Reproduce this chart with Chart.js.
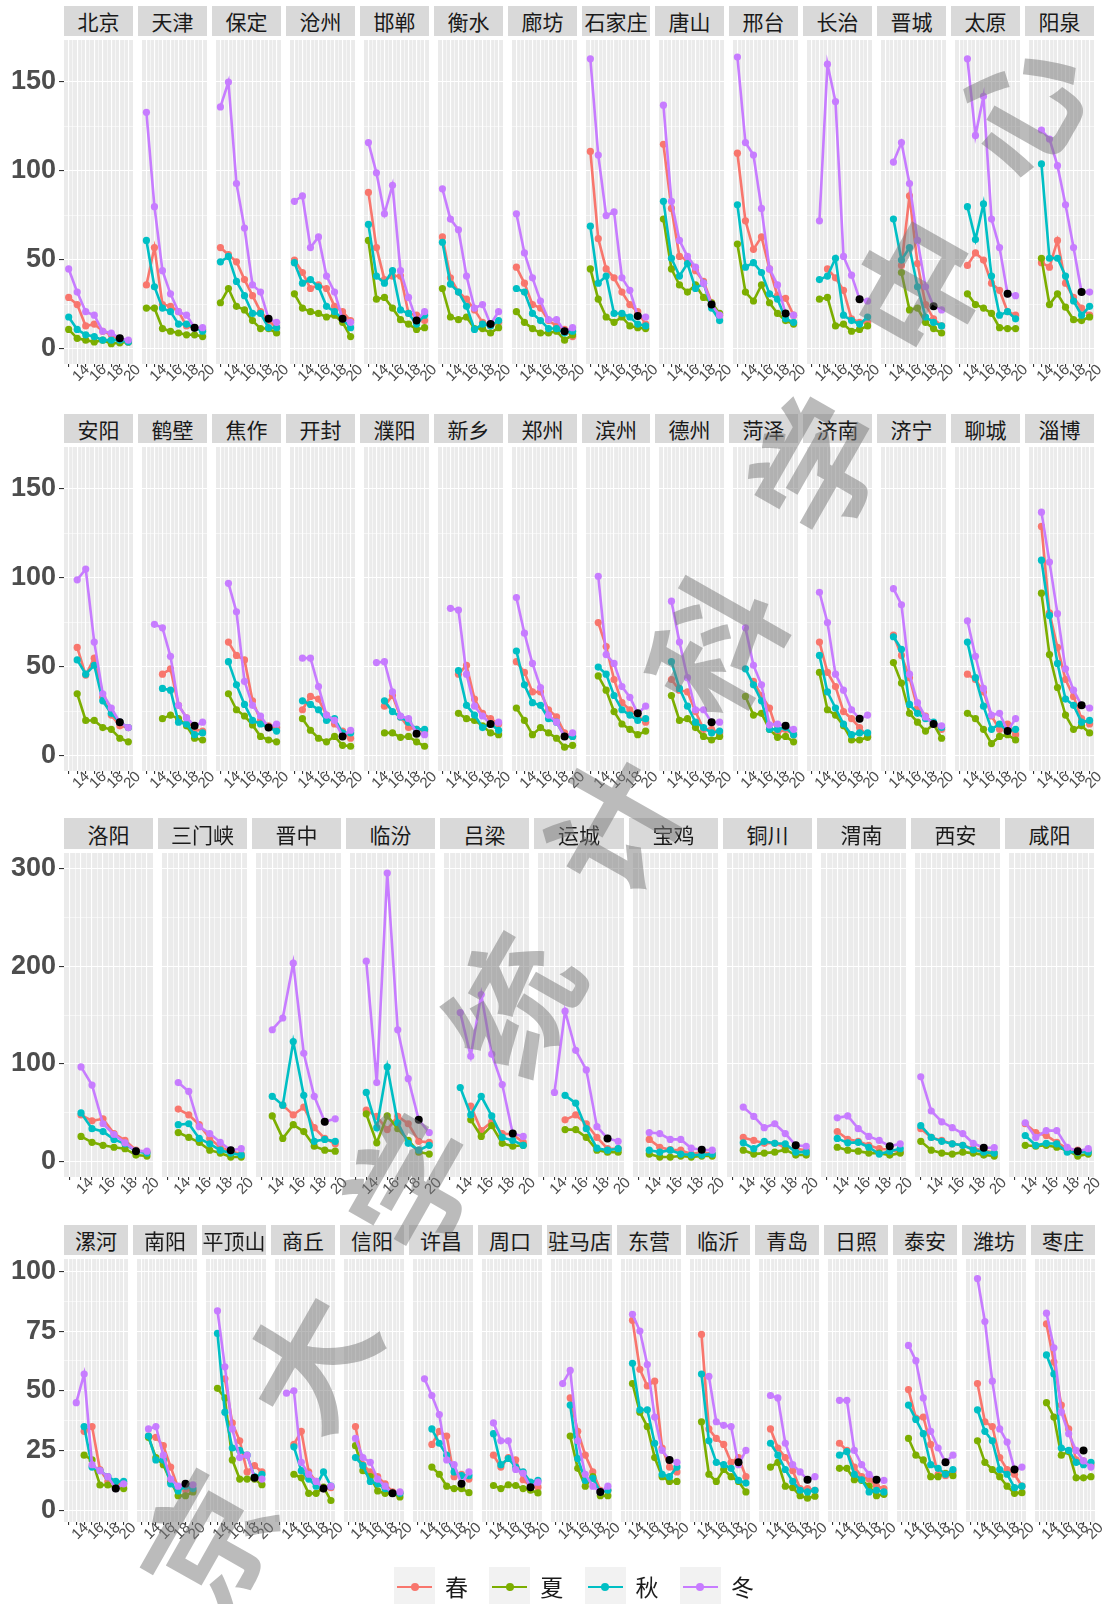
<!DOCTYPE html>
<html><head><meta charset="utf-8">
<script src="https://cdn.jsdelivr.net/npm/chart.js@4.4.1/dist/chart.umd.min.js"></script>
<style>
html,body{margin:0;padding:0;background:#fff}
body{position:relative;width:1104px;height:1604px;overflow:hidden}
.strip{position:absolute;background:#D9D9D9;color:#1A1A1A;font-family:"Noto Sans CJK SC",sans-serif;font-size:21px;display:flex;align-items:center;justify-content:center;white-space:nowrap;overflow:hidden}
canvas{position:absolute}
.lkey{position:absolute;background:#F2F2F2}
.lline{position:absolute;height:2.4px}
.ldot{position:absolute;width:8px;height:8px;border-radius:50%}
.ltext{position:absolute;font-family:"Noto Sans CJK SC",sans-serif;font-size:23px;color:#1A1A1A;line-height:23px}
#wm{position:absolute;left:-472px;top:830px;width:2058px;height:160px;transform:rotate(-60.45deg);display:flex;pointer-events:none;z-index:20;font-family:"Noto Sans CJK SC",sans-serif;font-weight:700;font-size:130px;line-height:160px;color:rgba(120,120,120,0.5)}
#wm span{display:block;width:205.8px;text-align:center}
</style></head><body>
<div id="wm"><span>北</span><span>京</span><span>大</span><span>学</span><span>统</span><span>计</span><span>科</span><span>学</span><span>中</span><span>心</span></div>
<script>
const N = null;
const years = [2013,2014,2015,2016,2017,2018,2019,2020];
const xLabelYears = [2014,2016,2018,2020];
const blackYear = 2019;
const seasonNames = ['春','夏','秋','冬'];
const seasonColors = ['#F8766D','#7CAE00','#00BFC4','#C77CFF'];

// ---------- Row 1 ----------
const row1Cities = ['北京','天津','保定','沧州','邯郸','衡水','廊坊','石家庄','唐山','邢台','长治','晋城','太原','阳泉'];
const row1YTicks = [0,50,100,150];
const row1Spring = [
 [29,25,13,14,10,8,5,4],[36,57,25,24,21,13,12,11],[57,53,49,39,30,21,16,12],[50,43,34,36,34,24,21,16],
 [88,57,39,41,41,20,19,16],[63,40,32,28,22,15,13,15],[46,37,25,23,16,13,11,7],[111,62,45,40,32,25,21,14],
 [115,79,52,50,44,38,26,19],[110,72,56,63,45,30,28.5,19],[N,N,45,40,33,17,15,15],[N,N,47,86,48,25,17,13],
 [N,47,54,50,37,33,21,19],[N,48.5,46,61,37,29,23,19]];
const row1Summer = [
 [11,6,5,4,5,3,3.5,4],[23,23,11.5,10,9,8,8,7],[26,34,24,22,16,11.5,11.5,9],[31,23,21,20,18,19,15,7],
 [61,28,29,23,16.5,14,11,12],[34,18,16.5,18,11.5,11.5,9,12],[21,15,11.5,9,9,10,5,8],[45,28,18,15,18,13,12,11.5],
 [73,45,36,32,36,29,26,20],[59,32,27,36,26,20,16,14],[N,28,29,13,14,10,11,13],[N,N,43,22,23,15,11.5,9],
 [N,31,25,23,20,12,11.5,11.5],[N,51,25,31,23.5,16.5,16,18]];
const row1Autumn = [
 [18,11,8,7,5,5,5,4],[61,35,23,21,14,14,12,10],[49,52,38,30,20,20,12,12],[48.5,37,39,35,24,21,17,12],
 [70,41,37,44,22,20,14,19],[60,36.5,32,24,11,14,13,16],[34,32,20,16,11.5,11.5,9,10],[69,37,41,20,20,18,14,13],
 [83,51,41,48,34,37,23,16],[81,46,48.5,43,31,28,17,15],[N,39,41,51,19,16,14,18],[N,73,50,57,35,18,15,13],
 [N,80,61.5,81.5,41,19,21,17],[N,104,51,51,41,27,19,24]];
const row1Winter = [
 [45,32,21,19,10,9,6,5],[133,80,44,31,21,19,12,12],[136,150,93,68,36,32,17,15],[83,86,57,63,41,32,17,15],
 [116,99,76,92,44,29,16,21],[90,73,67,41,23,25,14,21],[76,54,40,27,16.5,16.5,10,12],[163,109,75,77,40,33,18.5,18],
 [137,83,61,52,46,37,25,19],[164,116,109,79,45,36,20,19],[N,72,160,139,52,41.5,28,27],[N,105,116,93,61,35,24,22],
 [N,163,120,142,73,57,31,30],[N,123,118,103,81,57,32,32]];
const row1Black = [6,12,17,17,16,14,10,18.5,25,20,28,24,31,32];

// ---------- Row 2 ----------
const row2Cities = ['安阳','鹤壁','焦作','开封','濮阳','新乡','郑州','滨州','德州','菏泽','济南','济宁','聊城','淄博'];
const row2YTicks = [0,50,100,150];
const row2Spring = [
 [N,61,45.5,55,33,23,17,16],[N,N,46,49,28.5,21.5,15,14],[N,64,56.5,54,31,20,17,16],[N,26,33.5,32,23,18,14,10],
 [N,N,28,34,22,16,15,14],[N,N,46,51,32,24,21,18],[53,47,36,36,26,22,13,11],[N,75,61.5,43,30,26,22.5,19],
 [N,43,37,36,25,15,15,13],[N,N,42,34,27,13,15,12],[N,64,47,39,25,21,16,11],[N,68,56.5,44,27,22.5,18,15],
 [N,46,43,36,22.5,15,18,12],[N,129,80.5,61,43,33.5,21,18]];
const row2Summer = [
 [N,35,20,20,16,15,10,8],[N,N,21,23,21,17,10,9],[N,35,26,22.5,17.5,11,9,8],[N,21,14.5,10,8,11,6,5.5],
 [N,N,13,13,10.5,11,8,5.5],[N,N,24,21,20,17,13,12],[27,20,12,16,13,10,5,6],[N,45,37,25,18,15,12,14],
 [N,34,20,21,16,11,9,11],[N,33.5,23,24,15,10.5,11,8],[N,47,26,23,17,9,9,10.5],[N,52.5,41,24,19,14,18,10],
 [N,24,21,15,7,11,12,9],[N,91.5,57,38.5,23,15,17,13]];
const row2Autumn = [
 [N,54,46,51,31,24,19,16],[N,N,38,37,19,18,12,13],[N,53,40,29,20,18,16,14],[N,31,29,26,20,21,13,13],
 [N,N,31,25,22,19,15,15],[N,N,48,28.5,23,16,18,14.5],[59,40,30,28.5,21,19,11,11],[N,50,46,34,26,23,20,21],
 [N,53,38,28,19,16,13,14],[N,49,40,31,15,15,16,12],[N,56.5,36,27,18,12,13,13],[N,67,60,29,24,21,19,16],
 [N,64,44,28,15,18,14,15],[N,110,79,52,32,28.5,19,20]];
const row2Winter = [
 [N,99,105,64,35,27,19,16],[N,74,72,56,28.5,21.5,17,19],[N,97,81,42,28.5,22.5,16,18],[N,55,55,39,23,20,11,14.5],
 [N,52.5,53,36,22.5,21,13,12],[N,83,82,46,28,22.5,18,19],[89,69,52,38.5,23,19,11,13],[N,101,57,52,39,33,24,28],
 [N,87,64,44,26,26,19,19],[N,72,51,40,17.5,18,17,15],[N,92,75,46,37,26,21,23],[N,94,85,46,30,22,18,17],
 [N,76,56,38,23,24,14,21],[N,137,109,80,49,37,28.5,27]];
const row2Black = [19,17,16,11,12.5,18,11,24,19,17,21,18,14,28.5];

// ---------- Row 3 ----------
const row3Cities = ['洛阳','三门峡','晋中','临汾','吕梁','运城','宝鸡','铜川','渭南','西安','咸阳'];
const row3YTicks = [0,100,200,300];
const row3Spring = [
 [N,48,42,44,29,22,12,10],[N,54,48,38,24,15,11,8],[N,N,58,48,56,35,24,18.5],[N,53,46.5,33,46.5,39,21,20],
 [N,N,57,32,41,29,28,20],[N,N,43,48,39,25,13.5,13.5],[N,23,15,12.5,12,8,10,8],[N,25,22,19,19,15,13.5,12],
 [N,31,23,21,17,13.5,12.5,10],[34,25,22,18.5,17,13.5,12,9],[N,39,30,27,20,13.5,12,11]];
const row3Summer = [
 [N,26,20,17,15,13.5,7,6],[N,30,25,20,12,9,5,5],[N,47,24,38,31,16,12,11],[N,49,19.5,47,34,22,10,8],
 [N,N,43,26,37,19,16,17],[N,N,33,33,25,12,10,10],[N,8,5,5,6,5,6,6],[N,12,8,9,10,12.5,7,7],
 [N,15,12,11,9,9,7,9],[21,12,9,8,10,9,7,6],[N,17,16,17,15,12,6,8]];
const row3Autumn = [
 [N,50,34,31,23,18.5,11,9],[N,38,39,24,18.5,12,9,7],[N,67,58,123,68,21,23,21],[N,71,35,97,40,19,12,17],
 [N,76,48,67,47,25,22,17],[N,N,68,60,34,14,12,13.5],[N,12,10,12,8,7,7,8],[N,19.5,13.5,21,19,18.5,10,10],
 [N,24,19.5,20,15,8,11,13.5],[37,25,21,18.5,17,12.5,10,9],[N,27,17,19,18.5,10,10,10]];
const row3Winter = [
 [N,97,78.5,39,28,19.5,11,11],[N,81,72,36,29,20,12,13.5],[N,135,147,203,111,67,41,44],[N,205,81,295,135,85,43,30],
 [N,152.5,108,171,110,79,29,26],[N,71,154,114,94,36,24,21],[N,30,29,23,23,14,12.5,12],[N,56,46.5,35,39,29,17,16],
 [N,45,47,34,26,22,16,18.5],[87,52,41,35,29,19,14.5,14.5],[N,40,25,32,32,15,11,13.5]];
const row3Black = [11,12,41,43,29,24,12.5,17,16,14.5,11];

// ---------- Row 4 ----------
const row4Cities = ['漯河','南阳','平顶山','商丘','信阳','许昌','周口','驻马店','东营','临沂','青岛','日照','泰安','潍坊','枣庄'];
const row4YTicks = [0,25,50,75,100];
const row4Spring = [
 [N,N,33,35,17,12,11,11],[N,31,30.5,27,18,9.4,8.5,8.3],[N,N,55,36.5,29,16,18.6,16],[N,N,27.5,33,16,12,9,9.4],
 [N,35,19,16,14,11,7.6,7.2],[N,N,27.5,33,31,14,15,13],[N,23,18,22,21,12.7,10,9.6],[N,N,47,33,23,16,8.3,8.3],
 [N,79.5,59,52,54,26,18,16],[N,73.6,34,30,27.5,20,22,14],[N,34,26,22,16.5,9,9,8.3],[N,28,25,18,14,13,10,9],
 [N,50.5,38.5,39,27.5,15,14.4,16],[N,53,37,35,22,17,15,10],[N,78,62,44,34,21,20.6,19]];
const row4Summer = [
 [N,N,23,21,10.5,10.5,9.5,9],[N,30.5,22,19,12,6,6,7.6],[N,51,47,21,13,13,13,10.6],[N,N,15,13.5,7,7,9.6,4],
 [N,27,16.5,14,8,7,7,5.5],[N,N,18,15,10,9,9,7.3],[N,10.3,9,10.6,10.3,9,8.3,7.2],[N,N,31,17.5,10,14,6,6],
 [N,53,41,35,22,14,12,12],[N,37,15,12,17,14,12,7.6],[N,18,20,10,9.4,6,5,5.8],[N,17.5,17.5,12.7,12.4,10,6,6.6],
 [N,30,23,21,14,14,15.4,14.4],[N,29,20,17,14,10,7,7.3],[N,45,39,23,24.5,13.5,13.5,14]];
const row4Autumn = [
 [N,N,35,18,16.5,14,12,12],[N,31,21,21,11,8,10,9],[N,74,41,26,25,23,14,15],[N,N,26.5,16.5,13,10,16,10],
 [N,22,18.6,12,11,9,7,7],[N,N,34,28,23,16,14.4,14.4],[N,32,19,21.6,18,16,11.7,12.4],[N,N,44,21.6,12.4,13.3,7.6,8.3],
 [N,61.5,42,42,28,15,14,18],[N,57,29,20,19,17.5,12.4,11.3],[N,28,23,17,12,8.3,7.6,8.3],[N,23,24.5,15,12.7,7.6,8.3,7.6],
 [N,44,38,32,19,17.5,15,17],[N,42,33,29,17,15,9.4,10],[N,65,57,26,25,20,19,20]];
const row4Winter = [
 [N,45,57,19,16.5,14,9,11],[N,34,35,23,13,10,11,10.6],[N,83.5,60,34,22,23,13.5,13],[N,49,50,20,15,12,9,10],
 [N,30,22,20,13,10,7,7.6],[N,55,48,40,21,19,11,16],[N,36.5,29,29,17,15.4,9.6,11.7],[N,53,58.5,29,15,10,7.6,10],
 [N,82,75,61,39,25,21,20],[N,N,56,37,35.5,35,19,25],[N,48,47,28,19,16,12.7,14],[N,46,46,25,19,15,12.7,12.4],
 [N,69,62.6,47,33,26,20,23],[N,97,79,54,34,28.5,17,18],[N,82.5,68,41,32,25,20.6,18]];
const row4Black = [9,11,13.5,9,7,11,9.6,7.6,21,20,12.7,12.7,20,17,25];

// ---------- layout (positions only) ----------
const ROWS = [
 {cities:row1Cities, sp:row1Spring, su:row1Summer, au:row1Autumn, wi:row1Winter, bk:row1Black, yTicks:row1YTicks, x0:64, x1:1094, stripTop:6, plotTop:36, plotBottom:364, yMin:-8.4, yMax:173.6},
 {cities:row2Cities, sp:row2Spring, su:row2Summer, au:row2Autumn, wi:row2Winter, bk:row2Black, yTicks:row2YTicks, x0:64, x1:1094, stripTop:414, plotTop:443, plotBottom:771, yMin:-8.4, yMax:173.6},
 {cities:row3Cities, sp:row3Spring, su:row3Summer, au:row3Autumn, wi:row3Winter, bk:row3Black, yTicks:row3YTicks, x0:64, x1:1094, stripTop:818, plotTop:849, plotBottom:1177, yMin:-15.4, yMax:315.5},
 {cities:row4Cities, sp:row4Spring, su:row4Summer, au:row4Autumn, wi:row4Winter, bk:row4Black, yTicks:row4YTicks, x0:64, x1:1095, stripTop:1225, plotTop:1255, plotBottom:1522, yMin:-5, yMax:105.2}
];
const GAP = 5, EXTRA_R = 8, X_AXIS_H = 36;
const X_MIN = 2012.45, X_MAX = 2020.55;
const FONT = "'Liberation Sans', Arial, sans-serif";
const xGrid = [];
for (let v = 2013; v <= 2020; v += 0.5) xGrid.push(v);

const panelBg = {
  id: 'panelBg',
  beforeDraw(chart) {
    const a = chart.chartArea, ctx = chart.ctx;
    ctx.save(); ctx.fillStyle = '#EBEBEB';
    ctx.fillRect(a.left, a.top, a.right - a.left, a.bottom - a.top);
    ctx.restore();
  }
};
const isInt = v => Math.abs(v - Math.round(v)) < 1e-9;

ROWS.forEach(row => {
  const n = row.cities.length;
  const step = (row.x1 - row.x0 + GAP) / n;
  const w = step - GAP;
  const yMajor = new Set(row.yTicks);
  const yStep = row.yTicks[1] - row.yTicks[0];
  const yAll = [];
  for (let v = row.yTicks[0]; v <= row.yTicks[row.yTicks.length - 1] + 1e-9; v += yStep / 2) yAll.push(v);

  row.cities.forEach((city, i) => {
    const leftR = Math.round(row.x0 + i * step);
    const rightR = Math.round(row.x0 + i * step + w);
    const wR = rightR - leftR;
    const s = document.createElement('div');
    s.className = 'strip';
    s.textContent = city;
    s.style.left = leftR + 'px'; s.style.top = row.stripTop + 'px';
    s.style.width = wR + 'px'; s.style.height = (row.plotTop - row.stripTop) + 'px';
    document.body.appendChild(s);

    const first = i === 0;
    const yW = first ? leftR : 0;
    const cLeft = first ? 0 : leftR;
    const cW = yW + wR + EXTRA_R;
    const cH = (row.plotBottom - row.plotTop) + X_AXIS_H;
    const cv = document.createElement('canvas');
    cv.width = cW; cv.height = cH;
    cv.style.left = cLeft + 'px'; cv.style.top = row.plotTop + 'px';
    cv.style.width = cW + 'px'; cv.style.height = cH + 'px';
    document.body.appendChild(cv);

    const series = [row.sp[i], row.su[i], row.au[i], row.wi[i]];
    const datasets = series.map((vals, k) => ({
      label: seasonNames[k],
      data: years.map((yr, j) => ({x: yr, y: vals[j]})),
      borderColor: seasonColors[k],
      backgroundColor: seasonColors[k],
      pointBackgroundColor: seasonColors[k],
      pointBorderWidth: 0,
      pointRadius: 3.6,
      borderWidth: 2.6,
      tension: 0,
      fill: false,
      order: 5 - k
    }));
    datasets.push({
      label: 'mark',
      data: [{x: blackYear, y: row.bk[i]}],
      showLine: false,
      pointRadius: 4,
      pointBorderWidth: 0,
      pointBackgroundColor: '#000000',
      backgroundColor: '#000000',
      borderColor: '#000000',
      order: 0
    });

    new Chart(cv, {
      type: 'line',
      data: {datasets},
      options: {
        responsive: false, animation: false, devicePixelRatio: 1, events: [],
        layout: {padding: {left: 0, right: EXTRA_R, top: 0, bottom: 0}},
        plugins: {legend: {display: false}, tooltip: {enabled: false}},
        scales: {
          x: {
            type: 'linear', min: X_MIN, max: X_MAX,
            afterBuildTicks: sc => { sc.ticks = xGrid.map(v => ({value: v})); },
            afterFit: sc => { sc.height = X_AXIS_H; sc.paddingLeft = 0; sc.paddingRight = 0; },
            border: {display: false},
            grid: {
              color: '#FFFFFF',
              lineWidth: c => (c.tick && isInt(c.tick.value)) ? 1.1 : 0.55,
              drawTicks: true, tickLength: 3, tickWidth: 1.1,
              tickColor: c => (c.tick && isInt(c.tick.value)) ? '#333333' : 'rgba(0,0,0,0)'
            },
            ticks: {
              autoSkip: false, maxRotation: 45, minRotation: 45, padding: -6, labelOffset: 10,
              color: '#4D4D4D', font: {family: FONT, size: 15},
              callback: v => xLabelYears.includes(v) ? String(v % 100) : ''
            }
          },
          y: {
            type: 'linear', min: row.yMin, max: row.yMax,
            afterBuildTicks: sc => { sc.ticks = yAll.map(v => ({value: v})); },
            afterFit: sc => { sc.width = yW; sc.paddingTop = 0; sc.paddingBottom = 0; },
            border: {display: false},
            grid: {
              color: '#FFFFFF',
              lineWidth: c => (c.tick && yMajor.has(c.tick.value)) ? 1.1 : 0.55,
              drawTicks: first, tickLength: 5, tickWidth: 1.1,
              tickColor: c => (c.tick && yMajor.has(c.tick.value)) ? '#333333' : 'rgba(0,0,0,0)'
            },
            ticks: {
              display: first, autoSkip: false, padding: 3,
              color: '#4D4D4D', font: {family: FONT, size: 27, weight: 'bold'},
              callback: v => yMajor.has(v) ? String(v) : ''
            }
          }
        }
      },
      plugins: [panelBg]
    });
  });
});

// ---------- legend ----------
const LEG_X0 = 394, LEG_STEP = 95.3, LEG_TOP = 1567, LEG_MID = 1587;
seasonNames.forEach((nm, k) => {
  const kx = LEG_X0 + k * LEG_STEP;
  const key = document.createElement('div');
  key.className = 'lkey';
  Object.assign(key.style, {left: kx + 'px', top: LEG_TOP + 'px', width: '41px', height: '40px'});
  document.body.appendChild(key);
  const ln = document.createElement('div');
  ln.className = 'lline';
  Object.assign(ln.style, {left: (kx + 3) + 'px', top: (LEG_MID - 1.2) + 'px', width: '35px', background: seasonColors[k]});
  document.body.appendChild(ln);
  const dot = document.createElement('div');
  dot.className = 'ldot';
  Object.assign(dot.style, {left: (kx + 16.5) + 'px', top: (LEG_MID - 4) + 'px', background: seasonColors[k]});
  document.body.appendChild(dot);
  const tx = document.createElement('div');
  tx.className = 'ltext';
  tx.textContent = nm;
  Object.assign(tx.style, {left: (kx + 51) + 'px', top: (LEG_MID - 12) + 'px'});
  document.body.appendChild(tx);
});
</script>
</body></html>
